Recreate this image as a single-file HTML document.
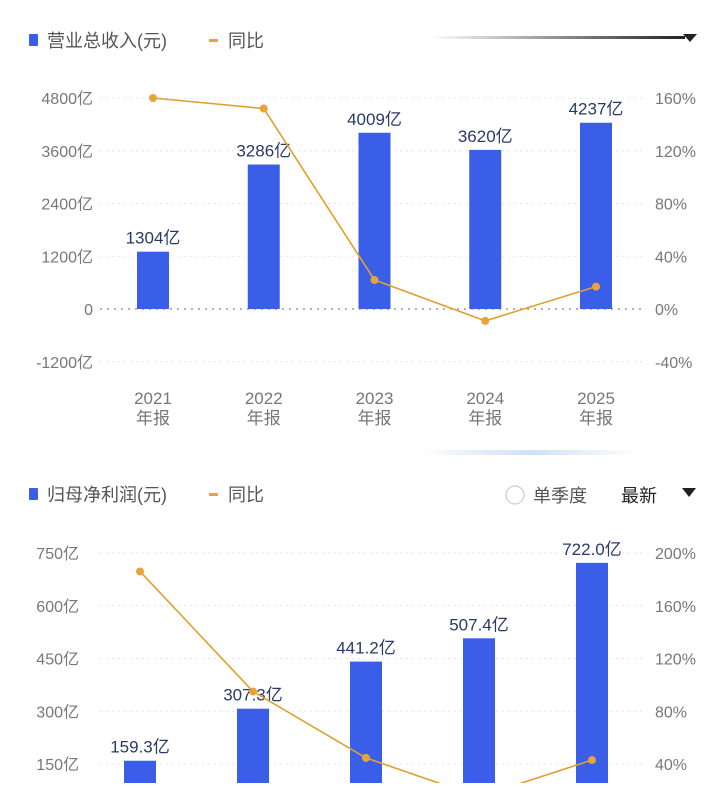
<!DOCTYPE html>
<html><head><meta charset="utf-8"><style>
body{margin:0;width:719px;height:783px;overflow:hidden;background:#fff;font-family:"Liberation Sans","Noto Sans CJK SC",sans-serif}
svg text{font-family:"Liberation Sans","Noto Sans CJK SC",sans-serif}
</style></head><body>
<svg id="s" width="719" height="783">
<defs><linearGradient id="g" x1="0" x2="1"><stop offset="0" stop-color="#fff"/><stop offset="1" stop-color="#222"/></linearGradient>
<linearGradient id="g2" x1="0" x2="1"><stop offset="0" stop-color="#fff"/><stop offset="0.5" stop-color="#cfe0f5"/><stop offset="1" stop-color="#fff"/></linearGradient></defs>
<g>
<rect x="29" y="34" width="9" height="12" rx="1" fill="#3a5ee8"/>
<text x="47" y="47" font-size="18" fill="#555">营业总收入(元)</text>
<rect x="209" y="39" width="9" height="3" fill="#e8a33a"/>
<text x="228" y="47" font-size="18" fill="#555">同比</text>
</g>
<rect x="430" y="36" width="255" height="3" fill="url(#g)"/>
<path d="M683 34 L697 34 L690 42 Z" fill="#222"/>
<rect x="420" y="450" width="220" height="5" rx="2" fill="url(#g2)"/>
<g>
<rect x="29" y="488" width="9" height="12" rx="1" fill="#3a5ee8"/>
<text x="47" y="501" font-size="18" fill="#555">归母净利润(元)</text>
<rect x="209" y="493" width="9" height="3" fill="#e8a33a"/>
<text x="228" y="501" font-size="18" fill="#555">同比</text>
</g>
<circle cx="515" cy="495" r="9" fill="none" stroke="#ccc" stroke-width="1.2"/>
<text x="533" y="502" font-size="18" fill="#555">单季度</text>
<text x="621" y="502" font-size="18" fill="#222">最新</text>
<path d="M682 488 L696 488 L689 497 Z" fill="#222"/>
<g id="c1"></g><g id="c2"></g>
</svg>
<script>
const cats1=["2021","2022","2023","2024","2025"];
const rev=[1304,3286,4009,3620,4237];
const revYoy=[160,152,22,-9,17];
const leftTicks1=[4800,3600,2400,1200,0,-1200];
const rightTicks1=[160,120,80,40,0,-40];
const cats2=["2021","2022","2023","2024","2025"];
const prof=[159.3,307.3,441.2,507.4,722.0];
const profYoy=[186,95,44.6,15,43];
const leftTicks2=[750,600,450,300,150];
const rightTicks2=[200,160,120,80,40];
const NS="http://www.w3.org/2000/svg";
function mk(p,t,a){const e=document.createElementNS(NS,t);for(const k in a)e.setAttribute(k,a[k]);p.appendChild(e);return e;}
function draw(g,o){
 const yL=v=>o.y0-(v-o.l0)*o.lk, yR=v=>o.y0-(v-o.r0)*o.rk, x=i=>o.x0+i*o.dx;
 o.lt.forEach((t,i)=>{const y=yL(t);
  const ln=mk(g,'line',{x1:100,x2:642,y1:y,y2:y,stroke:t===0?'#999':'#e4e4e4','stroke-width':t===0?1.5:1,'stroke-dasharray':t===0?'2 5':'2 4'});
  
  
  const tx=mk(g,'text',{x:o.lx,y:y+6,'font-size':16,fill:'#777','text-anchor':'end'});tx.textContent=t===0?'0':t+'亿';
  
  
  const tr=mk(g,'text',{x:655,y:y+6,'font-size':16,fill:'#777'});tr.textContent=o.rt[i]+'%';
  
  
 });
 o.vals.forEach((v,i)=>{const yt=yL(v),yb=yL(0);
  const r=mk(g,'rect',{x:x(i)-16,y:Math.min(yt,yb),width:32,height:Math.abs(yb-yt),fill:'#3a5ee8'});
  
  
  const t=mk(g,'text',{x:x(i),y:yt-8,'font-size':17,fill:'#2a3a66','text-anchor':'middle'});t.textContent=o.fmt(v)+'亿';
  
  
  if(o.xl){const a=mk(g,'text',{x:x(i),y:404,'font-size':17,fill:'#777','text-anchor':'middle'});a.textContent=o.cats[i];
   
   
   const b=mk(g,'text',{x:x(i),y:424,'font-size':17,fill:'#777','text-anchor':'middle'});b.textContent='年报';
   
   }
 });
 const pl=mk(g,'polyline',{points:o.yoy.map((v,i)=>x(i)+','+yR(v)).join(' '),fill:'none',stroke:'#e0a030','stroke-width':1.6});
 
 
 o.yoy.forEach((v,i)=>{const c=mk(g,'circle',{cx:x(i),cy:yR(v),r:4,fill:'#e8a33a'});
  
  });
}
draw(document.getElementById('c1'),{cats:cats1,vals:rev,yoy:revYoy,lt:leftTicks1,rt:rightTicks1,x0:153,dx:110.75,y0:309,l0:0,lk:52.75/1200,r0:0,rk:52.75/40,lx:93,xl:true,fmt:v=>String(v)});
draw(document.getElementById('c2'),{cats:cats2,vals:prof,yoy:profYoy,lt:leftTicks2,rt:rightTicks2,x0:140,dx:113,y0:816.75,l0:0,lk:52.75/150,r0:0,rk:52.75/40,lx:79,xl:false,fmt:v=>v.toFixed(1)});
</script>
</body></html>
